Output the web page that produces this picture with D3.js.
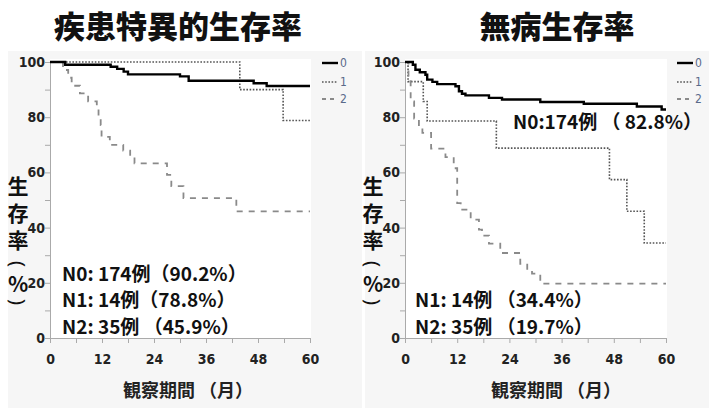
<!DOCTYPE html>
<html><head><meta charset="utf-8">
<script src="https://cdn.jsdelivr.net/npm/d3@7"></script>
<style>
html,body{margin:0;padding:0;background:#fff;}
svg{display:block;}
</style></head>
<body>
<svg id="c" width="709" height="408"></svg>
<script>
// ---- data ----
const monthTicks = [0, 12, 24, 36, 48, 60];
const minorMonthTicks = [0, 6, 12, 18, 24, 30, 36, 42, 48, 54, 60];
const pctTicks = [0, 20, 40, 60, 80, 100];
const minorPctTicks = [0, 10, 20, 30, 40, 50, 60, 70, 80, 90, 100];
const groups = ["0", "1", "2"];
const panelTitles = ["疾患特異的生存率", "無病生存率"];
const xTitle = "観察期間 （月）";
const yTitleMain = "生存率";
const yTitleUnit = ["(", "%", ")"];

// [month, survival %]
const dssN0 = [[0,100],[3.5,99.0],[14,98.3],[15.5,97.5],[17,96.5],[18,95.5],[30,94.8],[32,93.2],[47,92.3],[50,91.3]];
const dssN1 = [[0,100],[43.8,90.0],[53.8,78.8]];
const dssN2 = [[0,100],[3,97.1],[4.2,94.3],[5,91.4],[6.9,88.6],[8.8,85.7],[10.8,82.9],[11.2,80.0],[11.7,77.1],[11.9,72.9],[13.8,70.0],[16.9,67.9],[18.5,65.8],[19.5,63.3],[27,59.1],[28,55.0],[30.8,50.7],[43,45.9]];
const dfsN0 = [[0,100],[1.8,99.0],[2.4,97.2],[3.4,96.3],[4.7,95.4],[5.1,93.6],[6.3,92.8],[7.4,92.0],[11.6,91.2],[12.4,89.4],[13.1,88.5],[13.9,87.9],[19.3,87.0],[22.3,86.4],[31.1,85.5],[41.1,84.9],[53.3,83.9],[59,82.8]];
const dfsN1 = [[0,100],[0.7,92.9],[4.2,85.7],[5.1,78.6],[21,68.8],[47,57.4],[51,45.9],[55,34.4]];
const dfsN2 = [[0,100],[0.8,94.3],[1.3,85.7],[2.1,79.5],[3.2,77.1],[4.0,74.3],[6.0,68.6],[9.3,65.5],[11.2,61.5],[12.0,48.9],[12.8,46.5],[15.1,42.9],[17.0,39.3],[17.7,37.1],[19.3,34.2],[21.9,30.8],[26.5,26.9],[28.1,24.4],[29.2,23.3],[31.1,19.7]];

const dssNotes = ["N0: 174例（90.2%）", "N1: 14例（78.8%）", "N2: 35例 （45.9%）"];
const dfsNotes = ["N0:174例 （ 82.8%）", "N1: 14例 （34.4%）", "N2: 35例 （19.7%）"];

// ---- drawing ----
const svg = d3.select("#c");
const numFont = "'Liberation Sans Narrow','Arial Narrow','DejaVu Sans Condensed',sans-serif";
const cjk = "'Noto Sans CJK JP','Noto Sans CJK SC',sans-serif";

const styles = [
  {stroke:"#000", width:2.4, dash:null},
  {stroke:"#555", width:1.6, dash:"1.6,1.6"},
  {stroke:"#8a8a8a", width:1.8, dash:"6,6"}
];

const panels = [
  {bg:[8,51,354,357], x0:50, x1:310, title:panelTitles[0], tcx:178, xtcx:188, series:[dssN0,dssN1,dssN2],
   notes:dssNotes, notePos:[[62,272],[62,298],[62,325]], legX:322, ytx:18},
  {bg:[365,51,344,357], x0:405, x1:666, title:panelTitles[1], tcx:557, xtcx:556, series:[dfsN0,dfsN1,dfsN2],
   notes:dfsNotes, notePos:[[513,120],[415,298],[415,325]], legX:677, ytx:373}
];

const yTop = 62, yBot = 338;

panels.forEach(p => {
  svg.append("rect").attr("x",p.bg[0]).attr("y",p.bg[1]).attr("width",p.bg[2]).attr("height",p.bg[3]).attr("fill","#f6f6f6");
  svg.append("rect").attr("x",p.x0).attr("y",59).attr("width",p.x1-p.x0+1).attr("height",yBot-59).attr("fill","#fff");

  const x = d3.scaleLinear().domain([0,60]).range([p.x0,p.x1]);
  const y = d3.scaleLinear().domain([0,100]).range([yBot,yTop]);

  // title
  svg.append("text").attr("x",p.tcx).attr("y",24).attr("text-anchor","middle").attr("dominant-baseline","central")
    .attr("font-family",cjk).attr("font-weight",900).attr("font-size",31).attr("fill","#111").text(p.title);

  // y axis
  const ya = svg.append("g").attr("transform",`translate(${p.x0},0)`)
    .call(d3.axisLeft(y).tickValues(minorPctTicks).tickSize(5).tickFormat(d => pctTicks.includes(d) ? d : ""));
  ya.select(".domain").attr("stroke","#aaa");
  ya.selectAll(".tick line").attr("stroke","#aaa");
  ya.selectAll(".tick text").attr("font-family",numFont).attr("font-weight",700).attr("font-size",14).attr("fill","#222").attr("x",-5);

  // x axis
  const xa = svg.append("g").attr("transform",`translate(0,${yBot})`)
    .call(d3.axisBottom(x).tickValues(minorMonthTicks).tickSize(5).tickFormat(d => monthTicks.includes(d) ? d : ""));
  xa.select(".domain").attr("stroke","#aaa");
  xa.selectAll(".tick line").attr("stroke","#aaa");
  xa.selectAll(".tick text").attr("font-family",numFont).attr("font-weight",700).attr("font-size",14).attr("fill","#222").attr("y",16);

  // x title
  svg.append("text").attr("x",p.xtcx).attr("y",389).attr("text-anchor","middle").attr("dominant-baseline","central")
    .attr("font-family",cjk).attr("font-weight",700).attr("font-size",18).attr("fill","#222").text(xTitle);

  // y title: vertical kanji
  svg.append("text").attr("x",p.ytx).attr("y",176)
    .style("writing-mode","vertical-rl").style("letter-spacing","6px")
    .attr("font-family",cjk).attr("font-weight",700).attr("font-size",21).attr("fill","#111").text(yTitleMain);
  const uPos = [264, 283, 302];
  yTitleUnit.forEach((ch,i) => {
    const t = svg.append("text").attr("x",p.ytx).attr("y",uPos[i]).attr("text-anchor","middle").attr("dominant-baseline","central")
      .attr("fill","#111").text(ch);
    if (ch === "%") {
      t.attr("font-family",cjk).attr("font-weight",700).attr("font-size",21);
    } else {
      t.attr("font-family","'Noto Sans',sans-serif").attr("font-weight",400).attr("font-size",20)
       .attr("transform",`rotate(90,${p.ytx},${uPos[i]})`);
    }
  });

  // curves (draw solid last)
  const line = d3.line().x(d=>x(d[0])).y(d=>y(d[1])).curve(d3.curveStepAfter);
  [1,2,0].forEach(i => {
    const s = p.series[i];
    const pts = s.concat([[60, s[s.length-1][1]]]);
    const path = svg.append("path").datum(pts).attr("d",line).attr("fill","none")
      .attr("stroke",styles[i].stroke).attr("stroke-width",styles[i].width);
    if (styles[i].dash) path.attr("stroke-dasharray",styles[i].dash);
  });

  // legend
  const legY = [63, 82, 99];
  groups.forEach((g,i) => {
    const l = svg.append("line").attr("x1",p.legX).attr("x2",p.legX+16).attr("y1",legY[i]).attr("y2",legY[i])
      .attr("stroke",styles[i].stroke).attr("stroke-width",styles[i].width);
    if (i===1) l.attr("stroke-dasharray","1.6,1.6");
    if (i===2) l.attr("stroke-dasharray","4,4");
    svg.append("text").attr("x",p.legX+18).attr("y",legY[i]).attr("dominant-baseline","central")
      .attr("font-family",numFont).attr("font-size",12).attr("fill","#5a6a8a").text(g);
  });

  // notes
  p.notes.forEach((t,i) => {
    svg.append("text").attr("x",p.notePos[i][0]).attr("y",p.notePos[i][1]).attr("dominant-baseline","central")
      .attr("font-family",cjk).attr("font-weight",700).attr("font-size",19).attr("fill","#111").text(t);
  });
});
</script>
</body></html>
